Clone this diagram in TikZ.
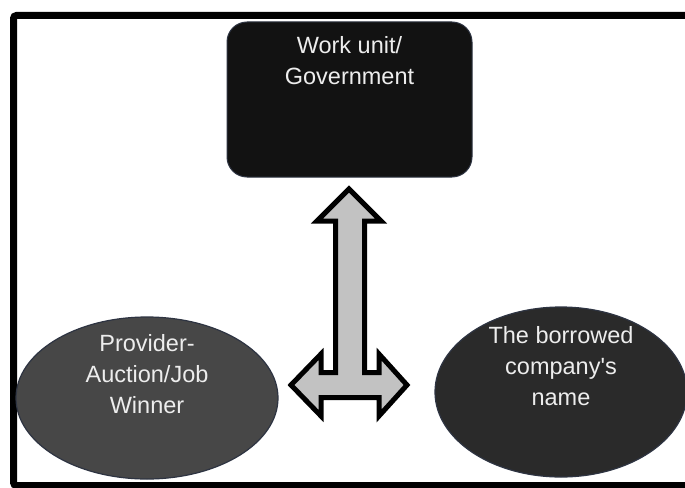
\documentclass[tikz,border=0pt]{standalone}
\usepackage{fontspec}
\setmainfont{Liberation Sans}
\usetikzlibrary{shapes.geometric}
\definecolor{boxfill}{HTML}{121212}
\definecolor{leftfill}{HTML}{474747}
\definecolor{rightfill}{HTML}{2A2A2A}
\definecolor{edgecol}{HTML}{2E3442}
\definecolor{arrowfill}{HTML}{C2C2C2}
\definecolor{txtcol}{HTML}{EDEDED}
\tikzset{
  govbox/.style={draw=edgecol, line width=1pt, fill=boxfill, rounded corners=20pt,
    minimum width=245pt, minimum height=155pt, inner sep=0pt},
  oval/.style={ellipse, draw=edgecol, line width=1.2pt, inner sep=0pt},
  lbl/.style={text=txtcol, align=center, font=\fontsize{23.5}{31}\selectfont, inner sep=0pt},
  bigarrow/.style={draw=black, line width=5pt, fill=arrowfill, line join=miter, miter limit=10},
  framebox/.style={draw=black, line width=7pt, rounded corners=3pt}
}
\begin{document}
\begin{tikzpicture}[x=1pt, y=-1pt]
\useasboundingbox (0,0) rectangle (685,487);
\clip (0,0) rectangle (685,487);
\fill[white] (0,0) rectangle (685,487);
\draw[framebox] (690,15.5) -- (13.5,15.5) -- (13.5,485.5) -- (690,485.5);

\node[govbox] (gov) at (349.5,99.5) {};
\node[lbl] (govtxt) at (349.5,61) {Work unit/\\Government};

\node[oval, fill=leftfill, minimum width=262pt, minimum height=162pt] (prov) at (147,398) {};
\node[lbl] (provtxt) at (147,374) {Provider-\\Auction/Job\\Winner};

\node[oval, fill=rightfill, minimum width=252pt, minimum height=170pt] (borr) at (561,392) {};
\node[lbl] (borrtxt) at (561,366) {The borrowed\\company\textquotesingle s\\name};

\draw[bigarrow] (349,189) -- (381,221) -- (364.5,221) -- (364.5,372.5) -- (379,372.5)
  -- (379,354) -- (407,385) -- (379,416) -- (379,397.5) -- (321,397.5) -- (321,416)
  -- (291,385) -- (321,354) -- (321,372.5) -- (335.5,372.5) -- (335.5,221) -- (317,221) -- cycle;
\end{tikzpicture}
\end{document}
